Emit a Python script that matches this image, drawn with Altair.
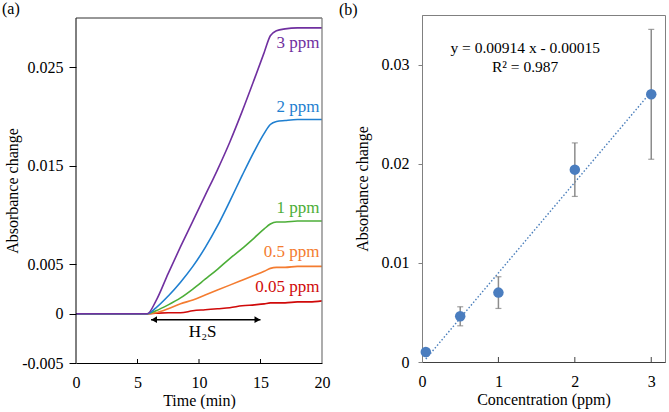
import altair as alt
import pandas as pd

FONT = "Liberation Serif"

# ---------- (a) absorbance change vs. time ----------
time_min = [0, 5.8, 6.5, 7.5, 8.5, 9.5, 10.5, 11.5, 12.5, 13.5, 14.5, 15.3, 15.8, 16.3, 17, 18, 19, 20]
abs_005 = [0, 0, 0.00005, 0.0001, 0.0001, 0.0003, 0.0004, 0.0005, 0.0006, 0.0008, 0.0009, 0.0010, 0.0011, 0.0011, 0.0011, 0.0012, 0.0012, 0.0013]
abs_05 = [0, 0, 0.0001, 0.0005, 0.0010, 0.0014, 0.0019, 0.0024, 0.0029, 0.0034, 0.0039, 0.0043, 0.0046, 0.0047, 0.0047, 0.0048, 0.0048, 0.0048]
abs_1 = [0, 0, 0.0003, 0.0009, 0.0016, 0.0025, 0.0035, 0.0045, 0.0056, 0.0066, 0.0077, 0.0086, 0.0091, 0.0093, 0.0093, 0.0094, 0.0094, 0.0094]
abs_2 = [0, 0, 0.0006, 0.0018, 0.0032, 0.0048, 0.0067, 0.0089, 0.0114, 0.0140, 0.0165, 0.0183, 0.0192, 0.0195, 0.0196, 0.0197, 0.0197, 0.0197]
abs_3 = [0, 0, 0.0013, 0.0041, 0.0068, 0.0094, 0.0120, 0.0146, 0.0174, 0.0205, 0.0238, 0.0265, 0.0282, 0.0287, 0.0289, 0.0290, 0.0290, 0.0290]

series_names = ["0.05 ppm", "0.5 ppm", "1 ppm", "2 ppm", "3 ppm"]
series_colors = ["#d00a0a", "#f47c30", "#4cae38", "#1f7fd0", "#7030a0"]
series_values = [abs_005, abs_05, abs_1, abs_2, abs_3]
label_y = [0.00267, 0.00623, 0.0107, 0.02097, 0.02747]

# ---------- (b) calibration ----------
conc_ppm = [0.05, 0.5, 1, 2, 3]
mean_abs = [0.00101, 0.00461, 0.00700, 0.0194, 0.0270]
sd_abs = [0.0002, 0.00096, 0.0016, 0.0027, 0.00655]
fit_slope = 0.00914
fit_intercept = -0.00015

W_A, H_A = 246, 345
TOP_A = 3                 # panel (a) plot sits slightly lower than panel (b)
VIEW_A = H_A + TOP_A
W_B, H_B = 243, 347

rows = []
for name, vals in zip(series_names, series_values):
    for t, v in zip(time_min, vals):
        rows.append({"t": t, "a": v, "series": name})
df_a = pd.DataFrame(rows)
df_lbl = pd.DataFrame({"series": series_names, "y": label_y, "x": [19.8] * 5})

color_scale = alt.Scale(domain=series_names, range=series_colors)

xa_scale = alt.Scale(domain=[0, 20], nice=False)
ya_scale = alt.Scale(domain=[-0.005, 0.03], nice=False, zero=False, range=[VIEW_A, TOP_A])

xa_axis = alt.Axis(values=[0, 5, 10, 15, 20], title="Time (min)", ticks=False, labelFlush=False,
                   labelPadding=11, titleX=W_A / 2, titleY=37, titleBaseline="middle",
                   domainColor="#000000")
ya_axis = alt.Axis(values=[-0.005, 0, 0.005, 0.015, 0.025],
                   labelExpr="datum.value == 0 ? '0' : (datum.value < 0 ? '-' + format(-datum.value, '.3f') : format(datum.value, '.3f'))",
                   title="Absorbance change", tickSize=7, labelPadding=6, domain=False,
                   titleX=-64, titleY=TOP_A + H_A / 2, titleBaseline="middle",
                   tickColor="#000000")

lines_a = alt.Chart(df_a).mark_line(strokeWidth=1.6, interpolate="monotone").encode(
    x=alt.X("t:Q", scale=xa_scale, axis=xa_axis),
    y=alt.Y("a:Q", scale=ya_scale, axis=ya_axis),
    color=alt.Color("series:N", scale=color_scale, legend=None),
    order=alt.Order("t:Q"),
)

labels_a = alt.Chart(df_lbl).mark_text(align="right", baseline="middle", fontSize=17, font=FONT).encode(
    x=alt.X("x:Q", scale=xa_scale),
    y=alt.Y("y:Q", scale=ya_scale),
    text="series:N",
    color=alt.Color("series:N", scale=color_scale, legend=None),
)

# H2S exposure window
df_arrow = pd.DataFrame({"x": [6.1], "x2": [15.0], "y": [-0.0006]})
arrow_line = alt.Chart(df_arrow).mark_rule(color="black", strokeWidth=1.5).encode(
    x=alt.X("x:Q", scale=xa_scale), x2="x2:Q", y=alt.Y("y:Q", scale=ya_scale))
df_heads = pd.DataFrame({"x": [6.35, 14.75], "y": [-0.0006, -0.0006],
                         "shape": ["triangle-left", "triangle-right"]})
arrow_heads = alt.Chart(df_heads).mark_point(filled=True, color="black", opacity=1, size=45).encode(
    x=alt.X("x:Q", scale=xa_scale), y=alt.Y("y:Q", scale=ya_scale),
    shape=alt.Shape("shape:N", scale=None))
h2s = alt.Chart(pd.DataFrame({"x": [10.3], "y": [-0.0019], "txt": ["H₂S"]})).mark_text(
    fontSize=17, font=FONT, baseline="middle", color="black").encode(
    x=alt.X("x:Q", scale=xa_scale), y=alt.Y("y:Q", scale=ya_scale), text="txt:N")

# inward x ticks and the plot frame
ticks_a = alt.Chart(pd.DataFrame({"t": [5, 10, 15]})).mark_rule(color="black").encode(
    x=alt.X("t:Q", scale=xa_scale), y=alt.value(VIEW_A), y2=alt.value(VIEW_A - 4))
one = pd.DataFrame({"k": [0]})
frame_left = alt.Chart(one).mark_rule(color="black").encode(
    x=alt.value(0), y=alt.value(TOP_A), y2=alt.value(VIEW_A))
frame_top = alt.Chart(one).mark_rule(color="#303030").encode(
    x=alt.value(0), x2=alt.value(W_A), y=alt.value(TOP_A))
frame_right = alt.Chart(one).mark_rule(color="#808080", strokeWidth=1.3).encode(
    x=alt.value(W_A), y=alt.value(TOP_A), y2=alt.value(VIEW_A))

tag_a = alt.Chart(pd.DataFrame({"txt": ["(a)"]})).mark_text(
    align="left", baseline="middle", fontSize=16, font=FONT, color="black").encode(
    x=alt.value(-74), y=alt.value(-6), text="txt:N")

panel_a = alt.layer(lines_a, labels_a, arrow_line, arrow_heads, h2s, ticks_a,
                    frame_left, frame_top, frame_right, tag_a).properties(
    width=W_A, height=VIEW_A, view=alt.ViewBackground(stroke="transparent"))

# ---------- panel (b) ----------
df_b = pd.DataFrame({"c": conc_ppm, "m": mean_abs, "sd": sd_abs})
df_b["lo"] = df_b["m"] - df_b["sd"]
df_b["hi"] = df_b["m"] + df_b["sd"]
fit_x = [0.05, 3.0]
df_fit = pd.DataFrame({"c": fit_x, "y": [fit_slope * x + fit_intercept for x in fit_x]})

xb_scale = alt.Scale(domain=[0, 3.18], nice=False)
yb_scale = alt.Scale(domain=[0, 0.035], nice=False)
xb_axis = alt.Axis(values=[0, 1, 2, 3], format="d", title="Concentration (ppm)", ticks=False,
                   labelFlush=False, labelPadding=11, titleX=W_B / 2, titleY=37,
                   titleBaseline="middle", domainColor="#404040")
yb_axis = alt.Axis(values=[0, 0.01, 0.02, 0.03],
                   labelExpr="datum.value == 0 ? '0' : format(datum.value, '.2f')",
                   title="Absorbance change", tickSize=4, labelPadding=9,
                   titleX=-60, titleY=H_B / 2, titleBaseline="middle",
                   domainColor="#808080", tickColor="#808080")

err_rule = alt.Chart(df_b).mark_rule(color="#8c8c8c", strokeWidth=1.5).encode(
    x=alt.X("c:Q", scale=xb_scale, axis=xb_axis),
    y=alt.Y("lo:Q", scale=yb_scale, axis=yb_axis), y2="hi:Q")
cap_lo = alt.Chart(df_b).mark_tick(orient="horizontal", size=6, thickness=1.2, color="#7a7a7a").encode(
    x=alt.X("c:Q", scale=xb_scale), y=alt.Y("lo:Q", scale=yb_scale))
cap_hi = alt.Chart(df_b).mark_tick(orient="horizontal", size=6, thickness=1.2, color="#7a7a7a").encode(
    x=alt.X("c:Q", scale=xb_scale), y=alt.Y("hi:Q", scale=yb_scale))
fit_line = alt.Chart(df_fit).mark_line(color="#4a7ebb", strokeWidth=1.4, strokeDash=[1.5, 2]).encode(
    x=alt.X("c:Q", scale=xb_scale), y=alt.Y("y:Q", scale=yb_scale))
pts = alt.Chart(df_b).mark_circle(size=110, color="#4a7dbf", opacity=1).encode(
    x=alt.X("c:Q", scale=xb_scale), y=alt.Y("m:Q", scale=yb_scale))

df_eq = pd.DataFrame({"x": [1.35, 1.35], "y": [0.0317, 0.0298],
                      "txt": ["y = 0.00914 x - 0.00015", "R² = 0.987"]})
eq_text = alt.Chart(df_eq).mark_text(fontSize=15.5, font=FONT, baseline="middle", color="black").encode(
    x=alt.X("x:Q", scale=xb_scale), y=alt.Y("y:Q", scale=yb_scale), text="txt:N")

ticks_b = alt.Chart(pd.DataFrame({"c": [1, 2, 3]})).mark_rule(color="#404040").encode(
    x=alt.X("c:Q", scale=xb_scale), y=alt.value(H_B), y2=alt.value(H_B - 5))

tag_b = alt.Chart(pd.DataFrame({"txt": ["(b)"]})).mark_text(
    align="left", baseline="middle", fontSize=16, font=FONT, color="black").encode(
    x=alt.value(-83), y=alt.value(-5), text="txt:N")

panel_b = alt.layer(fit_line, err_rule, cap_lo, cap_hi, pts, eq_text, ticks_b, tag_b).properties(
    width=W_B, height=H_B, view=alt.ViewBackground(stroke="#808080", strokeWidth=1))

chart = alt.hconcat(panel_a, panel_b, spacing=7).properties(
    padding={"left": 1, "top": 0, "right": 0, "bottom": 0},
    background="white",
).configure_axis(
    labelFont=FONT, titleFont=FONT, labelFontSize=16, titleFontSize=16,
    titleFontWeight="normal", labelColor="black", titleColor="black", grid=False,
).configure_text(font=FONT)

chart.save("out.html", embed_options={"renderer": "svg", "actions": False})
